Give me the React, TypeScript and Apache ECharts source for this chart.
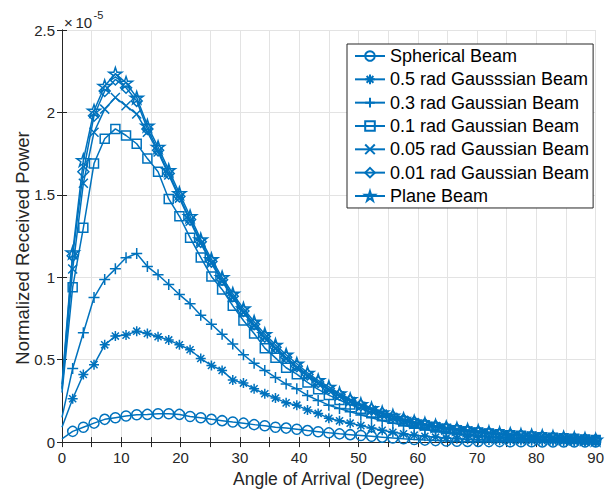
import React, { useEffect, useRef } from "react";
import * as echarts from "echarts";

// Angle of arrival samples (degrees)
const ANGLES = [0, 1.8, 3.6, 5.4, 7.2, 9, 10.8, 12.6, 14.4, 16.2, 18, 19.8, 21.6, 23.4, 25.2, 27, 28.8, 30.6, 32.4, 34.2, 36, 37.8, 39.6, 41.4, 43.2, 45, 46.8, 48.6, 50.4, 52.2, 54, 55.8, 57.6, 59.4, 61.2, 63, 64.8, 66.6, 68.4, 70.2, 72, 73.8, 75.6, 77.4, 79.2, 81, 82.8, 84.6, 86.4, 88.2, 90];

// Normalized received power, in units of 1e-5
const SPHERICAL = [0.02, 0.065, 0.09, 0.115, 0.138, 0.148, 0.158, 0.166, 0.168, 0.172, 0.172, 0.168, 0.155, 0.148, 0.138, 0.13, 0.122, 0.115, 0.106, 0.099, 0.09, 0.085, 0.078, 0.07, 0.063, 0.056, 0.05, 0.045, 0.04, 0.035, 0.03, 0.025, 0.02, 0.016, 0.012, 0.009, 0.007, 0.005, 0.004, 0.004, 0.003, 0.003, 0.002, 0.002, 0.002, 0.001, 0.001, 0.001, 0.001, 0.001, 0.001];
const GAUSS_05 = [0.09, 0.263, 0.41, 0.47, 0.59, 0.643, 0.649, 0.673, 0.659, 0.639, 0.62, 0.59, 0.56, 0.507, 0.465, 0.435, 0.376, 0.358, 0.323, 0.293, 0.267, 0.238, 0.224, 0.194, 0.174, 0.144, 0.129, 0.115, 0.1, 0.085, 0.072, 0.06, 0.05, 0.042, 0.035, 0.03, 0.025, 0.021, 0.018, 0.015, 0.013, 0.011, 0.01, 0.009, 0.008, 0.007, 0.006, 0.005, 0.004, 0.003, 0.002];
const GAUSS_03 = [0.15, 0.447, 0.663, 0.877, 0.986, 1.051, 1.118, 1.144, 1.065, 1.015, 0.956, 0.895, 0.84, 0.77, 0.715, 0.655, 0.595, 0.53, 0.478, 0.435, 0.392, 0.352, 0.323, 0.283, 0.253, 0.224, 0.204, 0.184, 0.165, 0.148, 0.13, 0.115, 0.1, 0.088, 0.077, 0.067, 0.058, 0.05, 0.044, 0.038, 0.033, 0.029, 0.025, 0.022, 0.019, 0.016, 0.014, 0.012, 0.01, 0.008, 0.007];
const GAUSS_01 = [0.3, 0.94, 1.3, 1.69, 1.84, 1.9, 1.86, 1.81, 1.72, 1.64, 1.475, 1.37, 1.24, 1.12, 1.005, 0.926, 0.827, 0.738, 0.659, 0.57, 0.511, 0.451, 0.412, 0.362, 0.32, 0.285, 0.255, 0.228, 0.203, 0.18, 0.16, 0.142, 0.126, 0.112, 0.1, 0.089, 0.08, 0.072, 0.065, 0.058, 0.052, 0.047, 0.042, 0.038, 0.034, 0.03, 0.027, 0.023, 0.02, 0.016, 0.012];
const GAUSS_005 = [0.32, 1.05, 1.57, 1.88, 2.02, 2.09, 2.04, 1.99, 1.88, 1.76, 1.62, 1.48, 1.34, 1.205, 1.085, 0.975, 0.875, 0.785, 0.705, 0.63, 0.565, 0.505, 0.45, 0.4, 0.355, 0.315, 0.28, 0.247, 0.218, 0.193, 0.17, 0.15, 0.133, 0.118, 0.105, 0.094, 0.084, 0.075, 0.067, 0.06, 0.054, 0.048, 0.043, 0.039, 0.035, 0.031, 0.027, 0.024, 0.02, 0.017, 0.013];
const GAUSS_001 = [0.33, 1.13, 1.64, 1.98, 2.13, 2.2, 2.15, 2.07, 1.9, 1.77, 1.63, 1.49, 1.35, 1.215, 1.095, 0.985, 0.885, 0.795, 0.715, 0.64, 0.575, 0.515, 0.46, 0.41, 0.365, 0.325, 0.287, 0.253, 0.224, 0.198, 0.175, 0.155, 0.137, 0.122, 0.109, 0.097, 0.087, 0.078, 0.07, 0.063, 0.057, 0.051, 0.046, 0.041, 0.037, 0.033, 0.029, 0.025, 0.021, 0.018, 0.014];
const PLANE = [0.35, 1.15, 1.71, 2.01, 2.16, 2.235, 2.18, 2.09, 1.92, 1.79, 1.65, 1.51, 1.37, 1.23, 1.11, 1.0, 0.9, 0.81, 0.73, 0.655, 0.59, 0.53, 0.475, 0.42, 0.375, 0.335, 0.295, 0.26, 0.23, 0.205, 0.18, 0.16, 0.14, 0.125, 0.112, 0.1, 0.09, 0.082, 0.074, 0.067, 0.06, 0.054, 0.049, 0.044, 0.04, 0.036, 0.032, 0.028, 0.024, 0.02, 0.015];

const SERIES_NAMES = [
  "Spherical Beam",
  "0.5 rad Gausssian Beam",
  "0.3 rad Gaussian Beam",
  "0.1 rad Gaussian Beam",
  "0.05 rad Gaussian Beam",
  "0.01 rad Gaussian Beam",
  "Plane Beam",
];
const SERIES_VALUES = [SPHERICAL, GAUSS_05, GAUSS_03, GAUSS_01, GAUSS_005, GAUSS_001, PLANE];

const X_MIN = 0, X_MAX = 90, X_STEP = 5;
const Y_MIN = 0, Y_MAX = 2.5, Y_STEP = 0.5;
const X_TITLE = "Angle of Arrival (Degree)";
const Y_TITLE = "Normalized Received Power";
const EXP_BASE = "10";
const EXP_POWER = "-5";

const BLUE = "#0072BD";
const AXIS = "#262626";
const FONT = "'Liberation Sans', Arial, Helvetica, sans-serif";

const STAR =
  "path://M5,0L6.123,3.455L9.755,3.455L6.817,5.59L7.939,9.045L5,6.91L2.061,9.045L3.183,5.59L0.245,3.455L3.877,3.455Z";
const SYMBOLS: { symbol: string; size: number }[] = [
  { symbol: "circle", size: 10 },
  { symbol: "path://M5,0L5,10M0,5L10,5M1.46,1.46L8.54,8.54M8.54,1.46L1.46,8.54", size: 10 },
  { symbol: "path://M5,0L5,10M0,5L10,5", size: 11 },
  { symbol: "rect", size: 9 },
  { symbol: "path://M0,0L10,10M10,0L0,10", size: 9 },
  { symbol: "diamond", size: 11 },
  { symbol: STAR, size: 13 },
];

export default function App() {
  const ref = useRef<HTMLDivElement>(null);
  useEffect(() => {
    if (!ref.current) return;
    const chart = echarts.init(ref.current, undefined, { renderer: "svg" });

    const series = SERIES_NAMES.map((name, k) => ({
      name,
      type: "line",
      data: SERIES_VALUES[k].map((v, i) =>
        i === 0 ? { value: [ANGLES[i], v], symbol: "none" } : { value: [ANGLES[i], v] }
      ),
      symbol: SYMBOLS[k].symbol,
      symbolSize: SYMBOLS[k].size,
      symbolKeepAspect: true,
      showAllSymbol: true,
      clip: false,
      lineStyle: { color: BLUE, width: 1.5 },
      itemStyle: { color: "rgba(0,0,0,0)", borderColor: BLUE, borderWidth: 1.5 },
      emphasis: { disabled: true },
      z: 2 + k,
    }));

    const xCommon = {
      type: "value",
      min: X_MIN,
      max: X_MAX,
      interval: X_STEP,
      axisLine: { show: true, lineStyle: { color: AXIS, width: 1 } },
      axisTick: { show: true, inside: true, length: 5, lineStyle: { color: AXIS } },
    };
    const yCommon = {
      type: "value",
      min: Y_MIN,
      max: Y_MAX,
      interval: Y_STEP,
      axisLine: { show: true, lineStyle: { color: AXIS, width: 1 } },
      axisTick: { show: true, inside: true, length: 5, lineStyle: { color: AXIS } },
    };

    chart.setOption({
      animation: false,
      backgroundColor: "#ffffff",
      grid: { left: 62, top: 30, width: 535, height: 421, containLabel: false },
      xAxis: [
        {
          ...xCommon,
          position: "bottom",
          name: X_TITLE,
          nameLocation: "middle",
          nameGap: 23,
          nameTextStyle: { color: AXIS, fontSize: 17.5, fontFamily: FONT },
          axisLabel: {
            color: AXIS,
            fontSize: 15,
            fontFamily: FONT,
            margin: 8,
            formatter: (v: number) => (v % 10 === 0 ? String(v) : ""),
          },
          splitLine: { show: true, lineStyle: { color: "#e3e3e3", width: 1 } },
        },
        {
          ...xCommon,
          position: "top",
          axisLabel: { show: false },
          splitLine: { show: false },
        },
      ],
      yAxis: [
        {
          ...yCommon,
          position: "left",
          axisLabel: { color: AXIS, fontSize: 15, fontFamily: FONT, margin: 7 },
          splitLine: { show: true, lineStyle: { color: "#e3e3e3", width: 1 } },
        },
        {
          ...yCommon,
          position: "right",
          axisLabel: { show: false },
          splitLine: { show: false },
        },
      ],
      legend: {
        orient: "vertical",
        left: 347,
        top: 44,
        data: SERIES_NAMES,
        itemWidth: 30,
        itemHeight: 12,
        itemGap: 5.33,
        padding: [3, 4, 3, 7],
        backgroundColor: "#ffffff",
        borderColor: AXIS,
        borderWidth: 1,
        borderRadius: 0,
        selectedMode: false,
        textStyle: { color: "#000000", fontSize: 18, fontFamily: FONT, lineHeight: 18 },
      },
      graphic: [
        {
          type: "text",
          x: 22.5,
          y: 248,
          rotation: Math.PI / 2,
          style: {
            text: Y_TITLE,
            fill: AXIS,
            fontSize: 18.5,
            fontFamily: FONT,
            align: "center",
            verticalAlign: "middle",
          },
        },
        {
          type: "text",
          x: 64,
          y: 22,
          style: { text: "×", fill: AXIS, fontSize: 15, fontFamily: FONT, verticalAlign: "middle" },
        },
        {
          type: "text",
          x: 75.5,
          y: 22,
          style: { text: EXP_BASE, fill: AXIS, fontSize: 15, fontFamily: FONT, verticalAlign: "middle" },
        },
        {
          type: "text",
          x: 93.5,
          y: 15,
          style: { text: EXP_POWER, fill: AXIS, fontSize: 11, fontFamily: FONT, verticalAlign: "middle" },
        },
      ],
      series,
    });
    return () => chart.dispose();
  }, []);
  return (
    <div
      ref={ref}
      style={{ position: "absolute", left: 0, top: 0, width: 607, height: 493 }}
    />
  );
}
